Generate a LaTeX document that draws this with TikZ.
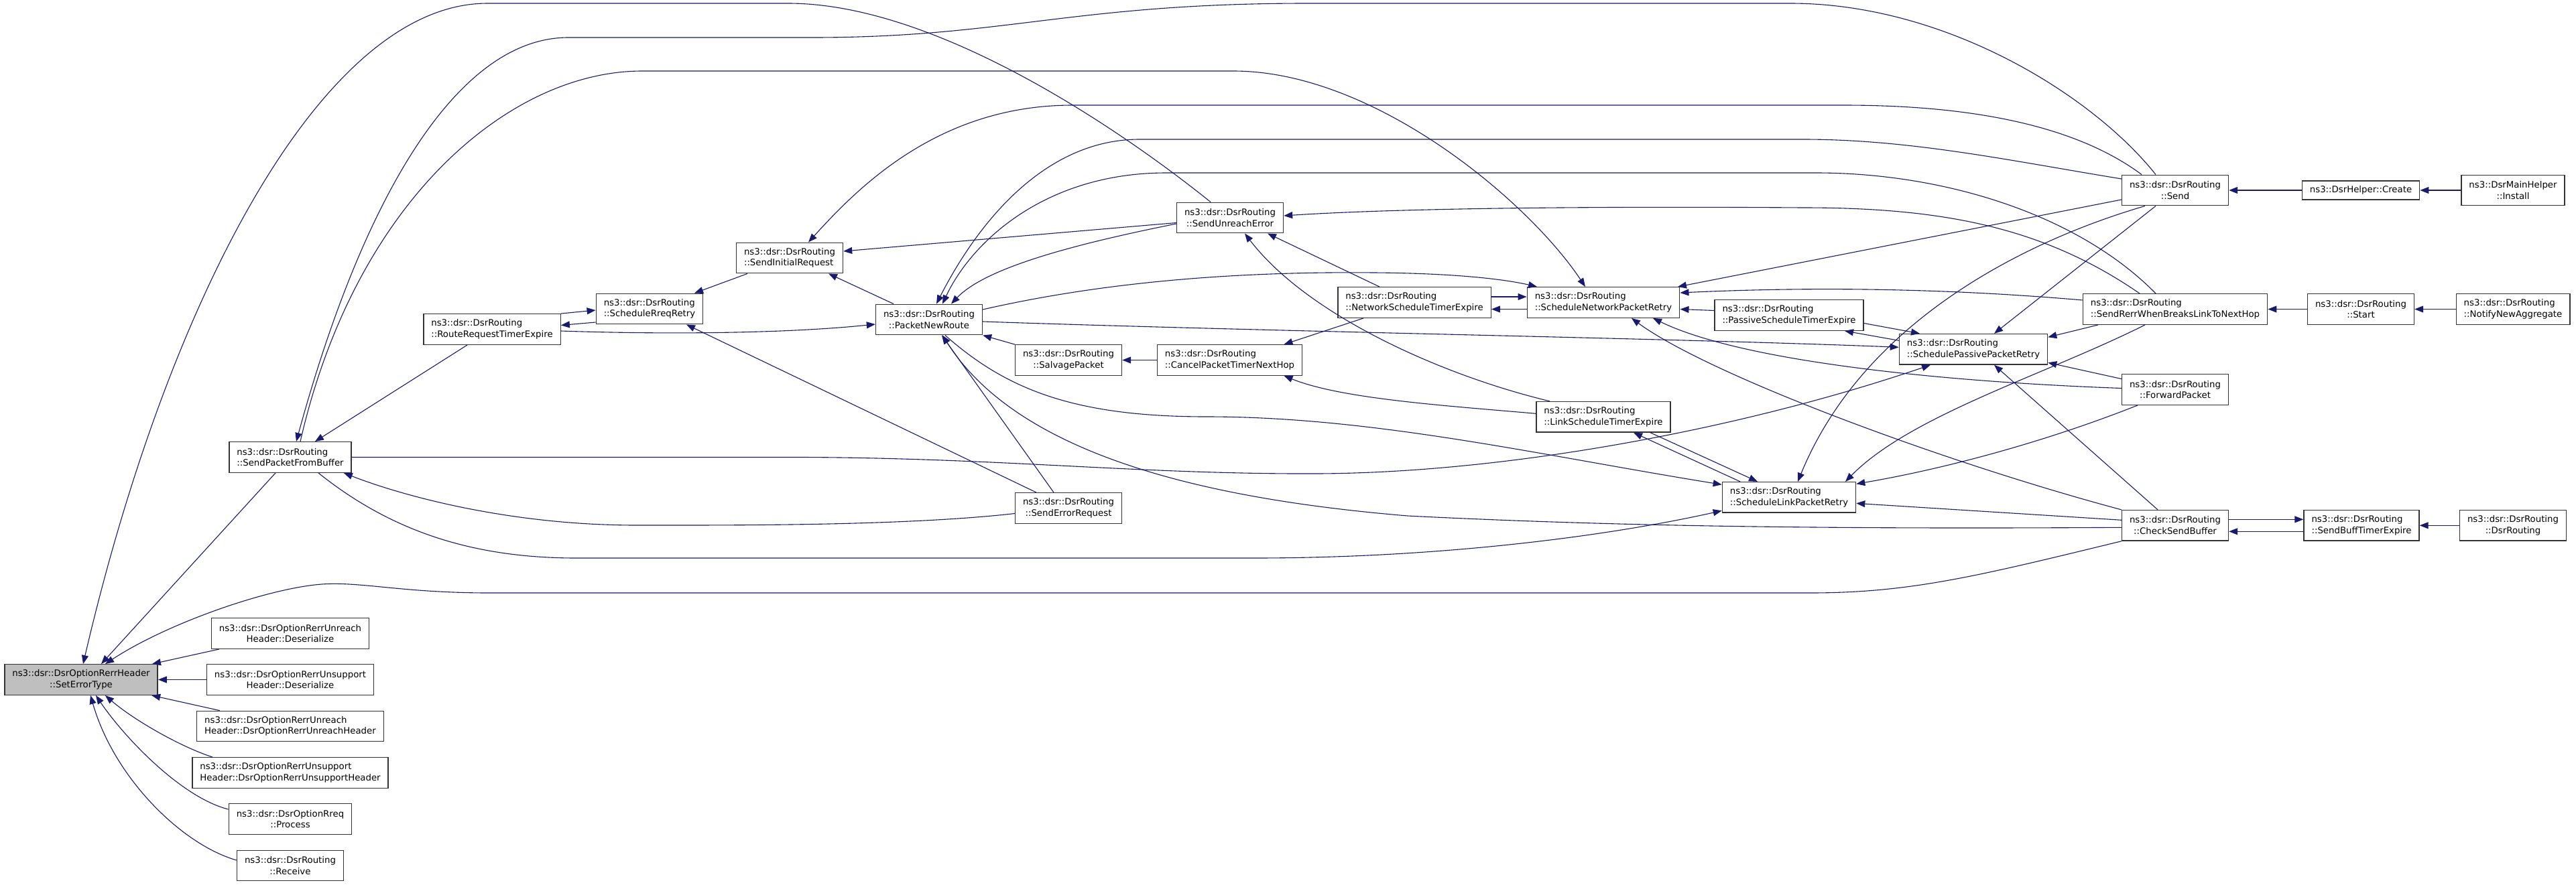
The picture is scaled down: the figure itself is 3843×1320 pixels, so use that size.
\documentclass[tikz,border=0pt]{standalone}
\usepackage{fontspec}
\setmainfont{DejaVu Sans}
\usetikzlibrary{arrows.meta}
\definecolor{callblue}{HTML}{191970}
\definecolor{rootgray}{HTML}{BFBFBF}
\tikzset{
  fn/.style={draw=black!80,line width=1.4pt,fill=white,rectangle,inner xsep=11.5pt,inner ysep=2pt,minimum height=45.5pt,align=center,font=\fontsize{13.3pt}{16.6pt}\selectfont},
  fnl/.style={fn,align=left},
  rootfn/.style={fn,fill=rootgray},
  call/.style={draw=callblue,line width=1.1pt,-{Triangle[length=13pt,width=10pt]}}
}

\begin{document}
\begin{tikzpicture}[x=1pt,y=-1pt]
\fill[white] (0,0) rectangle (3843,1320);
\useasboundingbox (0,0) rectangle (3843,1320);

\node[rootfn] (SET) at (121,1014.5) {ns3::dsr::DsrOptionRerrHeader\\::SetErrorType};
\node[fn] (UDES) at (433,945.5) {ns3::dsr::DsrOptionRerrUnreach\\Header::Deserialize};
\node[fn] (SDES) at (433,1014.5) {ns3::dsr::DsrOptionRerrUnsupport\\Header::Deserialize};
\node[fnl] (UHDR) at (433,1084) {ns3::dsr::DsrOptionRerrUnreach\\Header::DsrOptionRerrUnreachHeader};
\node[fnl] (SHDR) at (433,1153.5) {ns3::dsr::DsrOptionRerrUnsupport\\Header::DsrOptionRerrUnsupportHeader};
\node[fn] (PROC) at (433,1222.5) {ns3::dsr::DsrOptionRreq\\::Process};
\node[fn] (RECV) at (433,1292) {ns3::dsr::DsrRouting\\::Receive};
\node[fnl] (SPFB) at (433,682.5) {ns3::dsr::DsrRouting\\::SendPacketFromBuffer};
\node[fnl] (RRTE) at (734,491.5) {ns3::dsr::DsrRouting\\::RouteRequestTimerExpire};
\node[fnl] (SRR) at (969,461) {ns3::dsr::DsrRouting\\::ScheduleRreqRetry};
\node[fnl] (SIR) at (1178,385) {ns3::dsr::DsrRouting\\::SendInitialRequest};
\node[fn] (PNR) at (1386,477) {ns3::dsr::DsrRouting\\::PacketNewRoute};
\node[fn] (SALV) at (1594,537.5) {ns3::dsr::DsrRouting\\::SalvagePacket};
\node[fn] (SERQ) at (1594,758.5) {ns3::dsr::DsrRouting\\::SendErrorRequest};
\node[fn] (SUE) at (1835,325) {ns3::dsr::DsrRouting\\::SendUnreachError};
\node[fnl] (CPT) at (1834.5,537.5) {ns3::dsr::DsrRouting\\::CancelPacketTimerNextHop};
\node[fnl] (NSTE) at (2110,451.5) {ns3::dsr::DsrRouting\\::NetworkScheduleTimerExpire};
\node[fnl] (SNPR) at (2392,451.5) {ns3::dsr::DsrRouting\\::ScheduleNetworkPacketRetry};
\node[fnl] (LSTE) at (2392,622.3) {ns3::dsr::DsrRouting\\::LinkScheduleTimerExpire};
\node[fnl] (PSTE) at (2669,470.5) {ns3::dsr::DsrRouting\\::PassiveScheduleTimerExpire};
\node[fnl] (SLPR) at (2669,742.3) {ns3::dsr::DsrRouting\\::ScheduleLinkPacketRetry};
\node[fnl] (SPPR) at (2944,521.3) {ns3::dsr::DsrRouting\\::SchedulePassivePacketRetry};
\node[fn] (SEND) at (3245,284) {ns3::dsr::DsrRouting\\::Send};
\node[fnl] (SRW) at (3245,461.5) {ns3::dsr::DsrRouting\\::SendRerrWhenBreaksLinkToNextHop};
\node[fn] (FWD) at (3245,581.5) {ns3::dsr::DsrRouting\\::ForwardPacket};
\node[fn] (CSB) at (3245,784.3) {ns3::dsr::DsrRouting\\::CheckSendBuffer};
\node[fn,minimum height=28pt] (CRT) at (3522,284) {ns3::DsrHelper::Create};
\node[fn] (STRT) at (3522,461.5) {ns3::dsr::DsrRouting\\::Start};
\node[fnl] (SBTE) at (3523,784.3) {ns3::dsr::DsrRouting\\::SendBuffTimerExpire};
\node[fn] (INST) at (3749,284) {ns3::DsrMainHelper\\::Install};
\node[fnl] (NNA) at (3749,461.5) {ns3::dsr::DsrRouting\\::NotifyNewAggregate};
\node[fn] (DSRR) at (3749,784.3) {ns3::dsr::DsrRouting\\::DsrRouting};

\draw[call] (UDES) -- (SET);
\draw[call] (SDES) -- (SET);
\draw[call] (UHDR) -- (SET);
\draw[call] ([xshift=-116pt]SHDR.north) .. controls (270,1115) and (200,1075) .. ([xshift=36pt]SET.south);
\draw[call] ([yshift=14.5pt]PROC.west) .. controls (270,1190) and (185,1100) .. ([xshift=22pt]SET.south);
\draw[call] ([yshift=8pt]RECV.west) .. controls (270,1260) and (170,1160) .. ([xshift=14pt]SET.south);
\draw[call] ([xshift=-22pt]SPFB.south) -- ([xshift=30pt]SET.north);
\draw[call] ([xshift=-29pt]SUE.north) .. controls (1680,200) and (1400,5) .. (1176,5) -- (727,5) .. controls (480,5) and (250,450) .. ([xshift=3pt]SET.north);
\draw[call] (CSB.south west) .. controls (2950,860) and (2850,885) .. (2700,885) -- (730,885) .. controls (600,885) and (540,868) .. (480,872) .. controls (400,878) and (250,930) .. ([xshift=36pt]SET.north);

\draw[call] ([xshift=-29pt]SEND.north) .. controls (3120,140) and (2900,5) .. (2671,5) -- (1950,5) .. controls (1600,5) and (1500,56) .. (1212,56) -- (848,56) .. controls (680,56) and (540,300) .. ([xshift=9pt]SPFB.north);
\draw[call] (RRTE) -- (SPFB);
\draw[call] ([yshift=-8pt]SERQ.west) .. controls (1350,785) and (1100,784) .. (950,784) .. controls (760,784) and (600,740) .. ([xshift=-12pt]SPFB.south east);

\draw[call] ([xshift=15pt]SPFB.north) .. controls (530,300) and (760,106) .. (958,106) -- (1840,106) .. controls (2050,106) and (2280,300) .. ([xshift=-27pt]SNPR.north);
\draw[call] ([yshift=15pt]PNR.east) .. controls (1650,420) and (1850,405) .. (2050,407) .. controls (2180,408) and (2250,418) .. ([xshift=-99pt]SNPR.north);
\draw[call] ([yshift=-14pt]SEND.west) -- ([xshift=111pt]SNPR.north);
\draw[call] ([yshift=13.5pt]SRW.west) .. controls (2900,430) and (2700,428) .. ([yshift=14.5pt]SNPR.east);
\draw[call] ([yshift=7pt]PSTE.west) -- ([yshift=-10pt]SNPR.east);
\draw[call] ([yshift=8.5pt]NSTE.east) -- ([yshift=8.5pt]SNPR.west);
\draw[call] ([yshift=-10pt]SNPR.west) -- ([yshift=-10pt]NSTE.east);
\draw[call] (CSB.north west) .. controls (2900,690) and (2550,560) .. ([xshift=42pt]SNPR.south);
\draw[call] ([yshift=2pt]FWD.west) .. controls (2900,570) and (2600,540) .. ([xshift=74pt]SNPR.south);

\draw[call] (SPFB.east) -- (1200,682.5) .. controls (1500,684) and (1700,708) .. (1964,707) .. controls (2250,706) and (2600,640) .. ([xshift=-64pt]SPPR.south);
\draw[call] ([yshift=-3pt]PNR.east) .. controls (1900,495) and (2500,505) .. ([yshift=3pt]SPPR.west);
\draw[call] ([xshift=-29pt]SEND.south) -- ([xshift=31pt]SPPR.north);
\draw[call] ([xshift=-115pt]SRW.south) -- ([yshift=18pt]SPPR.east);
\draw[call] ([yshift=16pt]FWD.west) -- ([yshift=-20pt]SPPR.east);
\draw[call] ([xshift=-26pt]CSB.north) -- ([xshift=31pt]SPPR.south);
\draw[call] ([yshift=-12pt]PSTE.east) -- ([xshift=-80pt]SPPR.north);
\draw[call] ([yshift=13pt]SPPR.west) -- ([xshift=83pt]PSTE.south);

\draw[call] ([xshift=42pt]SPFB.south) .. controls (580,790) and (700,833) .. (860,833) -- (1870,833) .. controls (2150,833) and (2400,800) .. ([yshift=-20pt]SLPR.west);
\draw[call] ([xshift=24pt]PNR.south) .. controls (1500,580) and (1600,622) .. (1800,622) .. controls (2050,622) and (2300,680) .. ([yshift=19pt]SLPR.west);
\draw[call] ([xshift=-45pt]SEND.south) .. controls (3020,360) and (2780,480) .. ([xshift=13pt]SLPR.north);
\draw[call] ([xshift=-45pt]SRW.south) .. controls (3050,560) and (2850,620) .. ([xshift=84pt]SLPR.north);
\draw[call] ([xshift=-56pt]FWD.south) .. controls (3050,660) and (2900,700) .. ([yshift=20pt]SLPR.east);
\draw[call] ([yshift=8pt]CSB.west) -- ([yshift=-9pt]SLPR.east);
\draw[call] ([xshift=70pt]LSTE.south) -- ([xshift=-47pt]SLPR.north);
\draw[call] ([xshift=-73pt]SLPR.north) -- ([xshift=45pt]LSTE.south);

\draw[call] (RRTE.north east) -- ([yshift=-2pt]SRR.west);
\draw[call] ([yshift=-20pt]SRR.west) -- ([yshift=6pt]RRTE.east);
\draw[call] ([xshift=-63pt]SIR.south) -- ([xshift=67pt]SRR.north);
\draw[call] ([xshift=-48pt]SERQ.north) -- ([xshift=55pt]SRR.south);
\draw[call] ([yshift=-2.5pt]RRTE.east) .. controls (950,498) and (1150,500) .. ([yshift=-7pt]PNR.west);

\draw[call] ([xshift=-53pt]PNR.north) -- ([xshift=58pt]SIR.south);
\draw[call] ([yshift=-7.5pt]SUE.west) -- ([yshift=10pt]SIR.east);
\draw[call] ([xshift=-50pt]SEND.north) .. controls (3100,190) and (2950,157) .. (2750,157) -- (1600,157) .. controls (1400,157) and (1280,280) .. ([xshift=28pt]SIR.north);

\draw[call] ([yshift=17pt]SEND.west) .. controls (3000,240) and (2850,208) .. (2690,208) -- (1700,208) .. controls (1560,208) and (1460,330) .. ([xshift=11pt]PNR.north);
\draw[call] ([xshift=-29pt]SRW.north) .. controls (3100,320) and (2900,258) .. (2709,258) -- (1740,258) .. controls (1560,258) and (1450,360) .. ([xshift=20pt]PNR.north);
\draw[call] ([yshift=-9pt]SUE.west) .. controls (1600,365) and (1470,400) .. ([xshift=33pt]PNR.north);
\draw[call] (SALV.north west) -- (PNR.south east);
\draw[call] ([xshift=-22pt]SERQ.north) -- ([xshift=19pt]PNR.south);
\draw[call] ([yshift=-3pt]CSB.west) .. controls (2700,790) and (2400,785) .. (2100,770) .. controls (1800,745) and (1520,680) .. ([xshift=20pt]PNR.south);

\draw[call] ([xshift=-53pt]SRW.north) .. controls (3050,340) and (2900,310) .. (2690,310) .. controls (2400,308) and (2100,310) .. ([yshift=3pt]SUE.east);
\draw[call] ([xshift=-52pt]NSTE.north) -- ([xshift=56pt]SUE.south);
\draw[call] ([xshift=-80pt]LSTE.north) .. controls (2150,560) and (1950,470) .. ([xshift=22pt]SUE.south);

\draw[call] (CPT) -- (SALV);
\draw[call] ([xshift=-76pt]NSTE.south) -- ([xshift=81pt]CPT.north);
\draw[call] ([yshift=5pt]LSTE.west) .. controls (2150,605) and (2000,595) .. ([xshift=81pt]CPT.south);
\draw[call] (CRT) -- (SEND);
\draw[call] (INST) -- (CRT);
\draw[call] (STRT) -- (SRW);
\draw[call] (NNA) -- (STRT);
\draw[call] ([yshift=9pt]CSB.east) -- ([yshift=9pt]SBTE.west);
\draw[call] ([yshift=-9pt]SBTE.west) -- ([yshift=-9pt]CSB.east);
\draw[call] (DSRR) -- (SBTE);
\end{tikzpicture}
\end{document}
